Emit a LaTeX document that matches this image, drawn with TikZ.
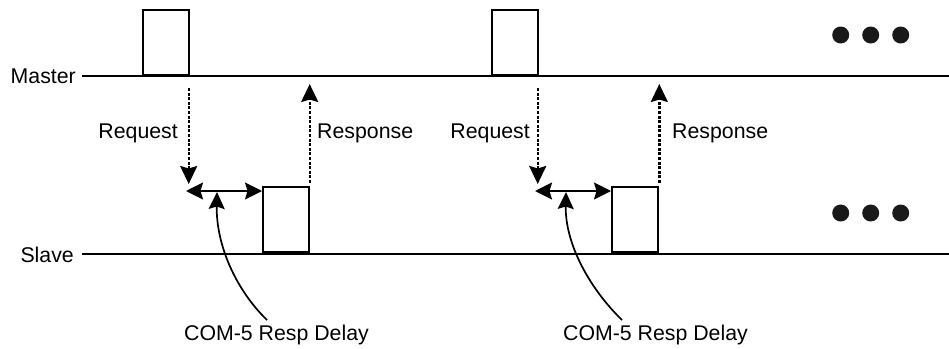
\documentclass[tikz,border=0pt]{standalone}
\usepackage{fontspec}
\setmainfont{Liberation Sans}
\usetikzlibrary{arrows.meta}
\begin{document}
\begin{tikzpicture}[x=1pt,y=-1pt,
  txt/.style={font=\fontsize{21.3}{25}\selectfont, inner sep=0pt},
  bus/.style={line width=2.2pt},
  pulse/.style={draw, line width=1.9pt, minimum width=46pt, minimum height=65pt, inner sep=0pt, anchor=south west},
  msg/.style={line width=2.4pt, dash pattern=on 3pt off 1.6pt, -{Stealth[length=18pt,width=17pt,inset=2.5pt]}},
  gap/.style={line width=2pt, {Stealth[length=17pt,width=17pt,inset=2.5pt]}-{Stealth[length=17pt,width=17pt,inset=2.5pt]}},
  curv/.style={line width=1.7pt, -{Stealth[length=17pt,width=16pt,inset=2.5pt]}},
  dot/.style={circle, fill=black!90, minimum size=17pt, inner sep=0pt}
]
\useasboundingbox (0,0) rectangle (949,348);
% bus lines
\node[txt, anchor=base east] (master) at (76,83) {Master};
\node[txt, anchor=base east] (slave) at (74,262) {Slave};
\coordinate (mend) at (949,76);
\coordinate (send) at (949,254);
\draw[bus] (master.east |- 0,76) ++(6,0) coordinate (mstart) -- (mend);
\draw[bus] (slave.east |- 0,254) ++(8,0) coordinate (sstart) -- (send);
% pulses
\node[pulse] (mp1) at (142,76) {};
\node[pulse] (mp2) at (491,76) {};
\node[pulse] (sp1) at (262,253) {};
\node[pulse] (sp2) at (611,253) {};
% request / response arrows
\coordinate (rq1a) at (188.7,88);  \coordinate (rq1b) at (188.7,184);
\coordinate (rs1a) at (309.7,183); \coordinate (rs1b) at (309.7,84);
\coordinate (rq2a) at (537.7,88);  \coordinate (rq2b) at (537.7,184);
\coordinate (rs2a) at (659.3,183); \coordinate (rs2b) at (659.3,84);
\draw[msg] (rq1a) -- (rq1b);
\draw[msg] (rs1a) -- (rs1b);
\draw[msg] (rq2a) -- (rq2b);
\draw[msg] (rs2a) -- (rs2b);
\node[txt, anchor=base east] (req1) at (178,138) {Request};
\node[txt, anchor=base west] (res1) at (317,138) {Response};
\node[txt, anchor=base east] (req2) at (530,138) {Request};
\node[txt, anchor=base west] (res2) at (672,138) {Response};
% delay arrows
\coordinate (g1a) at (186,191); \coordinate (g1b) at (262,191);
\coordinate (g2a) at (535,191); \coordinate (g2b) at (611,191);
\draw[gap] (g1a) -- (g1b);
\draw[gap] (g2a) -- (g2b);
% labels and curved pointers
\node[txt, anchor=base] (d1) at (276.5,340) {COM-5 Resp Delay};
\node[txt, anchor=base] (d2) at (655.5,340) {COM-5 Resp Delay};
\coordinate (c1s) at (267,320); \coordinate (c1e) at (217,192);
\coordinate (c2s) at (622,320); \coordinate (c2e) at (566,192);
\draw[curv] (c1s) .. controls (236,290) and (216,245) .. (c1e);
\draw[curv] (c2s) .. controls (591,290) and (565,245) .. (c2e);
% ellipsis dots
\node[dot] (a1) at (840.7,35) {};
\node[dot] (a2) at (870.7,35) {};
\node[dot] (a3) at (900.7,35) {};
\node[dot] (b1) at (840.7,213) {};
\node[dot] (b2) at (870.7,213) {};
\node[dot] (b3) at (900.7,213) {};
\end{tikzpicture}
\end{document}
